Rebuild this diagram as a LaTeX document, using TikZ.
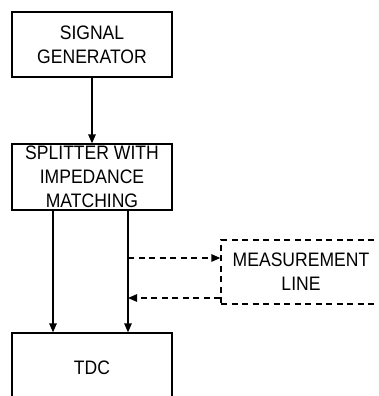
\documentclass[tikz,border=0pt]{standalone}
\usepackage{fontspec}
\setmainfont[FakeStretch=0.9]{Liberation Sans}
\usetikzlibrary{arrows.meta}
\tikzset{
  blk/.style={draw, line width=1.3pt, minimum width=160pt, inner sep=0pt,
    align=center, font=\fontsize{19.5}{24}\selectfont},
  dblk/.style={blk, dash pattern=on 6pt off 4.5pt},
  sig/.style={line width=1.3pt, -{Triangle[length=9pt,width=7.5pt]}},
  dsig/.style={sig, dash pattern=on 6pt off 4.5pt},
}
\begin{document}
\begin{tikzpicture}[x=1pt, y=-1pt]
  \useasboundingbox (0,0) rectangle (379,396);
  \clip (0,0) rectangle (379,396);
  \fill[white] (0,0) rectangle (379,396);

  \node[blk, minimum height=65pt] (gen) at (92,44.5) {SIGNAL\\GENERATOR};
  \node[blk, minimum height=66pt] (split) at (92,177) {SPLITTER WITH\\IMPEDANCE\\MATCHING};
  \node[blk, minimum height=70pt] (tdc) at (92,368) {TDC};
  \node[dblk, minimum height=64pt] (meas) at (301,272) {MEASUREMENT\\LINE};

  % main signal path
  \draw[sig] (gen.south) -- (split.north);
  \coordinate (sa) at ([xshift=-39pt]split.south);
  \coordinate (sb) at ([xshift=36pt]split.south);
  \draw[sig] (sa) -- (sa |- tdc.north);
  \draw[sig] (sb) -- (sb |- tdc.north);

  % loop through the measurement line
  \coordinate (mo) at (sb |- 0,258);
  \coordinate (mi) at (sb |- 0,298);
  \draw[dsig] (mo) -- (mo -| meas.west);
  \draw[dsig] (mi -| meas.west) -- (mi);
\end{tikzpicture}
\end{document}
